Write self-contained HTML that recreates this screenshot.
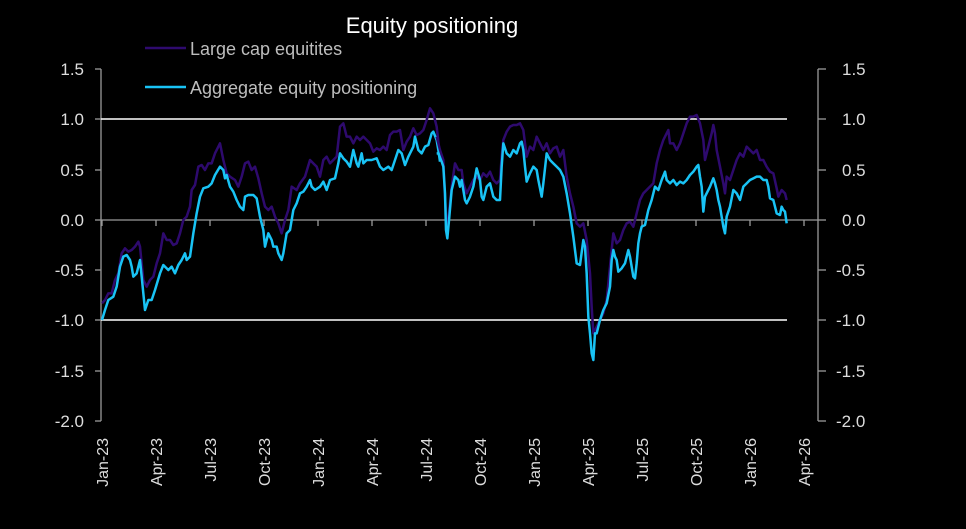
<!DOCTYPE html>
<html><head><style>
html,body{margin:0;padding:0;background:#000;}
svg{display:block;font-family:"Liberation Sans",sans-serif;}
</style></head><body>
<svg width="966" height="529" viewBox="0 0 966 529">
<rect width="966" height="529" fill="#000"/>
<text x="432" y="33" fill="#fff" font-size="22" text-anchor="middle">Equity positioning</text>
<line x1="145" y1="48" x2="186" y2="48" stroke="#2e0a6e" stroke-width="2.5"/>
<text x="190" y="55" fill="#bdbdbd" font-size="18">Large cap equitites</text>
<line x1="145" y1="87" x2="186" y2="87" stroke="#19c3f5" stroke-width="2.5"/>
<text x="190" y="94" fill="#bdbdbd" font-size="18">Aggregate equity positioning</text>
<g stroke="#999" stroke-width="1.3" fill="none">
<line x1="101" y1="69" x2="101" y2="421"/>
<line x1="818" y1="69" x2="818" y2="421"/>
<line x1="95" y1="69" x2="101" y2="69"/><line x1="95" y1="119" x2="101" y2="119"/><line x1="95" y1="170" x2="101" y2="170"/><line x1="95" y1="220" x2="101" y2="220"/><line x1="95" y1="270" x2="101" y2="270"/><line x1="95" y1="320" x2="101" y2="320"/><line x1="95" y1="371" x2="101" y2="371"/><line x1="95" y1="421" x2="101" y2="421"/>
<line x1="818" y1="69" x2="826" y2="69"/><line x1="818" y1="119" x2="826" y2="119"/><line x1="818" y1="170" x2="826" y2="170"/><line x1="818" y1="220" x2="826" y2="220"/><line x1="818" y1="270" x2="826" y2="270"/><line x1="818" y1="320" x2="826" y2="320"/><line x1="818" y1="371" x2="826" y2="371"/><line x1="818" y1="421" x2="826" y2="421"/>
<line x1="101" y1="220" x2="818" y2="220"/>
<g id="tk">
<line x1="102" y1="220" x2="102" y2="226"/><line x1="156" y1="220" x2="156" y2="226"/><line x1="210" y1="220" x2="210" y2="226"/><line x1="264" y1="220" x2="264" y2="226"/><line x1="318" y1="220" x2="318" y2="226"/><line x1="372" y1="220" x2="372" y2="226"/><line x1="426" y1="220" x2="426" y2="226"/><line x1="480" y1="220" x2="480" y2="226"/><line x1="534" y1="220" x2="534" y2="226"/><line x1="588" y1="220" x2="588" y2="226"/><line x1="642" y1="220" x2="642" y2="226"/><line x1="696" y1="220" x2="696" y2="226"/><line x1="750" y1="220" x2="750" y2="226"/><line x1="804" y1="220" x2="804" y2="226"/>
</g>
</g>
<line x1="101" y1="119" x2="787" y2="119" stroke="#fff" stroke-width="1.6"/>
<line x1="101" y1="320" x2="787" y2="320" stroke="#fff" stroke-width="1.6"/>
<g fill="#ddd" font-size="17" text-anchor="end">
<text x="84" y="75">1.5</text><text x="84" y="125">1.0</text><text x="84" y="176">0.5</text><text x="84" y="226">0.0</text><text x="84" y="276">-0.5</text><text x="84" y="326">-1.0</text><text x="84" y="377">-1.5</text><text x="84" y="427">-2.0</text>
</g>
<g fill="#ddd" font-size="17" text-anchor="start">
<text x="842" y="75">1.5</text><text x="842" y="125">1.0</text><text x="842" y="176">0.5</text><text x="842" y="226">0.0</text><text x="836" y="276">-0.5</text><text x="836" y="326">-1.0</text><text x="836" y="377">-1.5</text><text x="836" y="427">-2.0</text>
</g>
<g fill="#ddd" font-size="16" text-anchor="end">
<text transform="translate(108,438) rotate(-90)">Jan-23</text>
<text transform="translate(162,438) rotate(-90)">Apr-23</text>
<text transform="translate(216,438) rotate(-90)">Jul-23</text>
<text transform="translate(270,438) rotate(-90)">Oct-23</text>
<text transform="translate(324,438) rotate(-90)">Jan-24</text>
<text transform="translate(378,438) rotate(-90)">Apr-24</text>
<text transform="translate(432,438) rotate(-90)">Jul-24</text>
<text transform="translate(486,438) rotate(-90)">Oct-24</text>
<text transform="translate(540,438) rotate(-90)">Jan-25</text>
<text transform="translate(594,438) rotate(-90)">Apr-25</text>
<text transform="translate(648,438) rotate(-90)">Jul-25</text>
<text transform="translate(702,438) rotate(-90)">Oct-25</text>
<text transform="translate(756,438) rotate(-90)">Jan-26</text>
<text transform="translate(810,438) rotate(-90)">Apr-26</text>
</g>
<g fill="none" stroke-linejoin="round" stroke-width="7.5">
<g transform="translate(90,100) scale(0.33333)">
<polyline stroke="#2e0a6e" points="36,610 45,600 55,580 65,580 75,540 85,520 95,460 105,445 115,455 125,450 135,440 145,425 150,440 155,490 160,540 170,560 180,540 190,530 200,490 210,460 220,400 230,420 240,420 250,435 260,430 270,400 280,360 290,350 300,320 305,270 315,255 325,200 335,195 345,210 355,190 365,190 375,160 385,140 390,130 400,180 410,220 420,230 435,240 445,260 455,230 465,190 475,185 485,210 495,200 505,235 515,280 525,320 535,330 545,320 555,350 565,370 575,400 585,360 595,330 605,260 620,270 630,250 645,230 660,180 670,190 680,200 690,230 700,180 710,170 720,190 730,180 740,170 750,80 760,70 770,110 780,110 790,130 800,110 810,120 820,110 830,120 840,130 850,155 860,145 870,150 880,140 890,150 900,105 910,95 920,95 930,90 940,150 950,125 960,110 970,85 980,105 990,100 1000,90 1010,60 1020,25 1030,40 1040,80 1050,170"/>
<polyline stroke="#19c3f5" points="36,660 45,630 55,600 70,590 80,560 90,500 100,470 110,465 120,480 125,500 130,530 140,520 150,480 155,530 160,580 165,630 175,600 185,600 195,570 210,520 220,495 235,510 245,500 255,520 265,495 275,480 285,460 290,480 300,470 310,400 320,340 330,290 340,265 355,260 365,250 375,225 390,200 400,210 405,235 410,225 420,260 430,275 440,300 450,320 460,330 465,290 475,285 490,285 500,295 510,350 520,390 525,440 535,400 545,420 550,440 560,440 565,460 575,480 580,460 590,400 600,390 610,330 620,310 630,280 640,275 650,260 660,240 665,260 675,270 690,260 700,245 710,270 720,240 735,235 745,190 750,160 760,175 770,185 780,200 790,150 800,190 805,200 815,160 820,190 830,180 845,180 860,175 870,200 880,210 895,200 905,210 915,180 925,150 935,160 945,195 955,170 970,140 975,110 985,150 995,160 1005,140 1015,135 1025,100 1030,95 1040,120 1045,150 1050,185"/>
</g>
<g transform="translate(430,100) scale(0.33333)">
<polyline stroke="#2e0a6e" points="20,110 30,150 40,180 45,290 50,380 55,360 65,260 75,190 85,210 95,210 100,250 110,280 120,260 130,240 140,230 150,240 160,220 170,230 180,215 190,240 200,250 210,240 215,170 220,120 230,95 240,80 250,75 260,75 270,70 280,90 285,130 290,170 300,140 310,150 320,110 330,130 340,150 350,130 360,160 370,145 380,140 390,170 400,150 410,230 420,280 430,320 440,370 450,380 460,370 470,420 480,520 485,620 490,700 495,690 505,670 520,640 530,600 540,500 550,400 560,430 570,420 580,390 590,370 600,365 610,380 620,340 630,300 640,280 650,270 660,260 670,250 680,190 690,150 700,120 710,100 715,90 720,130 730,130 740,150 750,130 760,100 770,70 780,50 790,50 800,45 810,70 820,120 825,180 835,140 845,100 850,75 855,100 860,150 870,200 880,250 885,280 890,230 900,240 910,210 920,180 930,160 940,170 950,140 960,150 970,160 980,150 990,180 1000,180 1010,200 1020,215 1030,220 1040,265 1045,290 1055,270 1065,280 1070,300"/>
<polyline stroke="#19c3f5" points="20,160 25,160 35,185 40,200 45,280 48,390 52,415 58,350 65,270 75,230 85,240 90,260 95,240 100,270 105,300 110,310 120,290 130,260 140,205 150,240 155,290 160,300 170,260 180,250 185,270 190,290 200,300 210,300 215,200 220,130 230,160 240,170 250,150 260,160 270,130 275,125 280,150 285,200 290,245 300,220 310,200 320,210 325,240 335,290 340,250 350,160 360,180 370,190 380,200 390,210 400,230 410,280 420,340 430,410 440,490 450,495 460,420 465,440 470,520 475,650 480,700 485,760 490,780 495,700 500,700 510,660 520,630 530,610 540,560 545,480 550,450 555,470 560,480 565,515 575,505 585,490 595,450 600,470 605,500 610,530 615,535 620,490 625,430 630,400 635,380 645,375 655,330 665,300 675,260 685,270 695,240 705,215 710,240 720,250 730,240 740,255 750,245 760,250 770,240 780,225 790,215 800,200 805,195 810,230 815,260 820,335 825,290 830,280 840,260 850,235 855,250 860,270 865,300 870,320 880,380 885,400 890,350 900,320 910,270 920,280 930,300 940,260 950,250 960,240 970,235 980,230 990,230 1000,240 1010,240 1015,260 1020,295 1030,300 1040,340 1050,345 1055,320 1060,330 1065,335 1070,370"/>
</g>
</g>
</svg>
</body></html>
